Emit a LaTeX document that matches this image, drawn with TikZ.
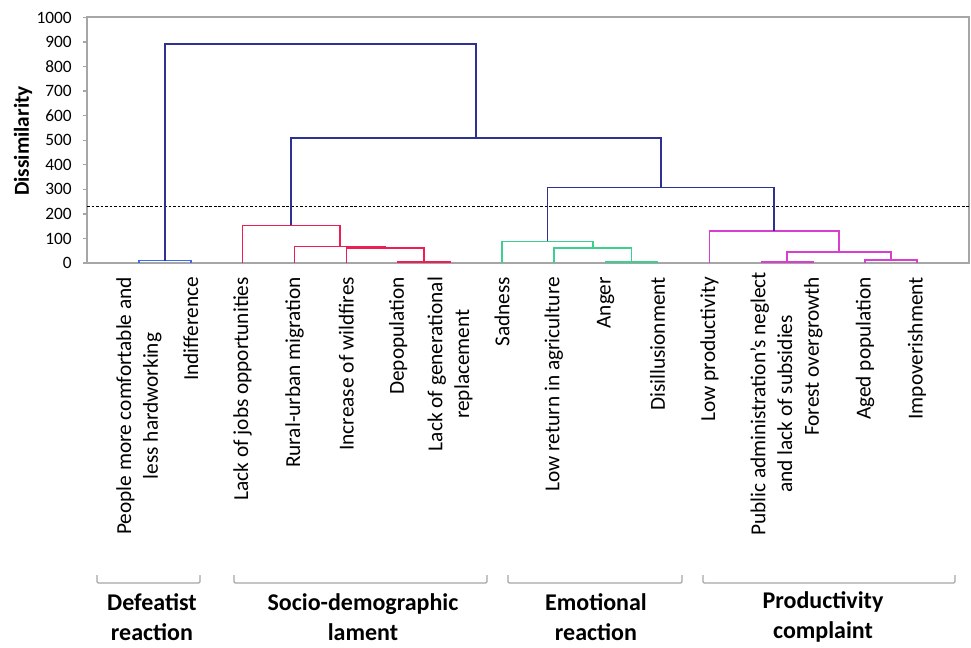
\documentclass[tikz,border=0pt]{standalone}
\usepackage{fontspec}
\setmainfont{Carlito}
\usetikzlibrary{calc,positioning}

\definecolor{topblue}{RGB}{46,49,146}
\definecolor{defblue}{RGB}{58,107,240}
\definecolor{socred}{RGB}{236,30,84}
\definecolor{emogreen}{RGB}{60,207,142}
\definecolor{promag}{RGB}{216,63,208}
\definecolor{axgray}{RGB}{166,166,166}

\begin{document}
\begin{tikzpicture}[
  x=0.75pt, y=0.75pt,
  frame/.style={draw=axgray, line width=1.5pt},
  link/.style={line width=1.2pt},
  cutline/.style={line width=0.9pt, dash pattern=on 2pt off 1.4pt},
  ticklab/.style={anchor=east, inner sep=0pt, xshift=-11.25pt, font=\fontsize{13}{15}\selectfont},
  leaflab/.style={rotate=90, anchor=east, align=center, inner sep=0pt, font=\fontsize{16}{20}\selectfont},
  grouplab/.style={align=center, inner sep=0pt, font=\fontsize{18}{22}\selectfont\bfseries},
  brk/.style={draw=axgray, line width=0.9pt, rounded corners=1pt}
]
\useasboundingbox (0,0) rectangle (971,647);

% axis title
\node[rotate=90, font=\fontsize{16}{19}\selectfont\bfseries] (ytitle) at (23,506) {Dissimilarity};

\begin{scope}[shift={(87,384)}, x=38.9025pt, y=0.184125pt]
% frame and ticks
\draw[frame] (0,0) rectangle (17,1000);
\foreach \v in {0,100,...,1000}{
  \draw[draw=axgray, line width=1pt] (0,\v) -- ++(-3pt,0pt);
  \node[ticklab] (tk\v) at (0,\v) {\v};
}

% leaves
\foreach \i in {1,...,16}
  \coordinate (l\i) at (\i,0);

% merges
\coordinate (d12) at (1.5,10);
\coordinate (d67) at (6.5,3);
\coordinate (d567) at (5.75,60);
\coordinate (d4567) at (4.875,68);
\coordinate (d37) at (3.9375,153);
\coordinate (e1011) at (10.5,5);
\coordinate (e911) at (9.75,60);
\coordinate (e811) at (8.875,88);
\coordinate (p1314) at (13.5,5);
\coordinate (p1516) at (15.5,12);
\coordinate (p1316) at (14.5,46);
\coordinate (p1216) at (13.25,131);
\coordinate (b816) at (11.0625,308);
\coordinate (b316) at (7.5,510);
\coordinate (b116) at (4.5,892);

% cut level
\draw[cutline] (0,230) -- (17,230);

% clusters
\draw[link, defblue] (l1) |- (d12) -| (l2);
\draw[link, socred] (l6) |- (d67) -| (l7);
\draw[link, socred] (l5) |- (d567) -| (d67);
\draw[link, socred] (l4) |- (d4567) -| (d567);
\draw[link, socred] (l3) |- (d37) -| (d4567);
\draw[link, emogreen] (l10) |- (e1011) -| (l11);
\draw[link, emogreen] (l9) |- (e911) -| (e1011);
\draw[link, emogreen] (l8) |- (e811) -| (e911);
\draw[link, promag] (l13) |- (p1314) -| (l14);
\draw[link, promag] (l15) |- (p1516) -| (l16);
\draw[link, promag] (p1314) |- (p1316) -| (p1516);
\draw[link, promag] (l12) |- (p1216) -| (p1316);
\draw[link, topblue] (e811) |- (b816) -| (p1216);
\draw[link, topblue] (d37) |- (b316) -| (b816);
\draw[link, topblue] (d12) |- (b116) -| (b316);

% leaf labels
\node[leaflab] (t1) at ([yshift=-10.3pt]l1) {People more comfortable and\\less hardworking};
\node[leaflab] (t2) at ([yshift=-10.3pt]l2) {Indifference};
\node[leaflab] (t3) at ([yshift=-10.3pt]l3) {Lack of jobs opportunities};
\node[leaflab] (t4) at ([yshift=-10.3pt]l4) {Rural-urban migration};
\node[leaflab] (t5) at ([yshift=-10.3pt]l5) {Increase of wildfires};
\node[leaflab] (t6) at ([yshift=-10.3pt]l6) {Depopulation};
\node[leaflab] (t7) at ([yshift=-10.3pt]l7) {Lack of generational\\replacement};
\node[leaflab] (t8) at ([yshift=-10.3pt]l8) {Sadness};
\node[leaflab] (t9) at ([yshift=-10.3pt]l9) {Low return in agriculture};
\node[leaflab] (t10) at ([yshift=-10.3pt]l10) {Anger};
\node[leaflab] (t11) at ([yshift=-10.3pt]l11) {Disillusionment};
\node[leaflab] (t12) at ([yshift=-10.3pt]l12) {Low productivity};
\node[leaflab] (t13) at ([xshift=7.5pt,yshift=-6.5pt]l13) {Public administration's neglect\\and lack of subsidies};
\node[leaflab] (t14) at ([yshift=-10.3pt]l14) {Forest overgrowth};
\node[leaflab] (t15) at ([yshift=-10.3pt]l15) {Aged population};
\node[leaflab] (t16) at ([yshift=-10.3pt]l16) {Impoverishment};
\end{scope}

% groups
\draw[brk] (97,72) -- (97,64) -- (200,64) -- (200,72);
\draw[brk] (234,72) -- (234,64) -- (487,64) -- (487,72);
\draw[brk] (508,72) -- (508,64) -- (682,64) -- (682,72);
\draw[brk] (703,72) -- (703,64) -- (955,64) -- (955,72);
\node[grouplab] (g1) at (152,30) {Defeatist\\reaction};
\node[grouplab] (g2) at (363,30) {Socio-demographic\\lament};
\node[grouplab] (g3) at (596,30) {Emotional\\reaction};
\node[grouplab] (g4) at (823,30) {Productivity\\complaint};
\end{tikzpicture}
\end{document}
